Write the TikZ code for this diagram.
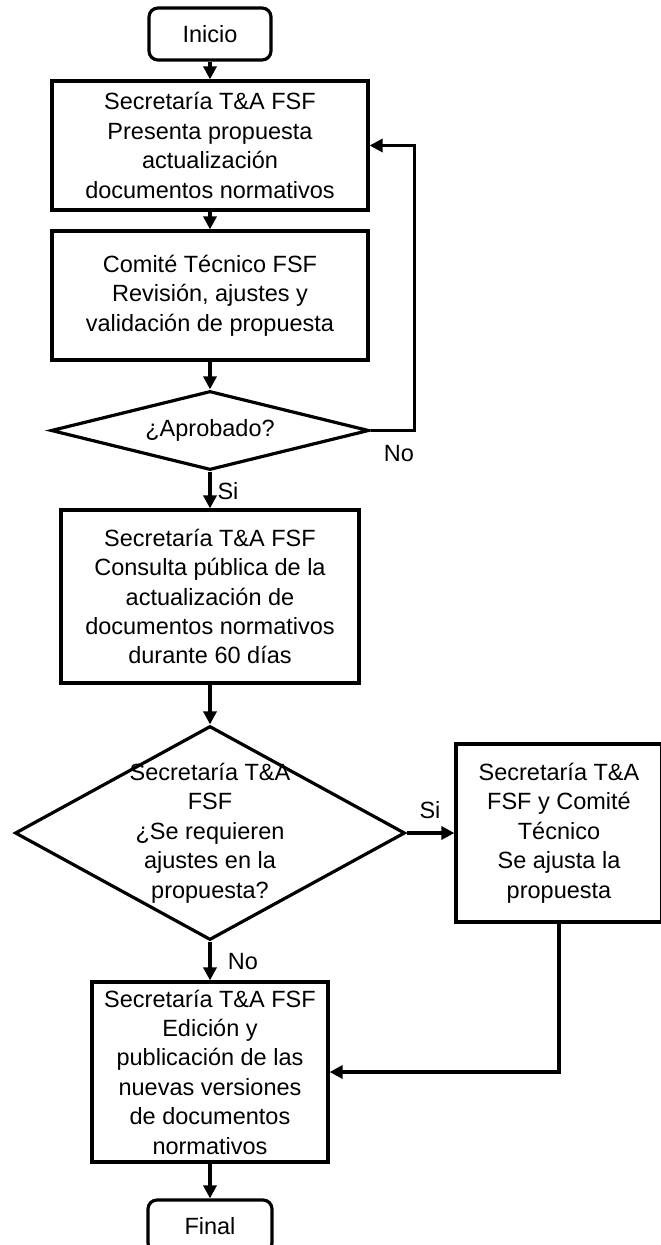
\documentclass[tikz,border=0pt]{standalone}
\usepackage{fontspec}
\setmainfont{Liberation Sans}
\usetikzlibrary{shapes.geometric,arrows.meta}
\definecolor{flowdark}{RGB}{0,0,0}
\newcommand{\flowfont}{\fontsize{23.5}{29.4}\selectfont}
\tikzstyle{arrow}=[line width=3.2pt, -{Triangle[length=13pt,width=13pt]}, color=flowdark]
\tikzstyle{process}=[draw=flowdark, line width=3.2pt, rectangle, inner sep=0pt, align=center, font=\flowfont]
\tikzstyle{terminal}=[process, rounded corners=9pt]
\tikzstyle{decision}=[draw=flowdark, line width=3.2pt, diamond, inner sep=0pt]
\tikzstyle{flowtext}=[align=center, font=\flowfont, inner sep=0pt]

\begin{document}
\begin{tikzpicture}[x=1pt, y=-1pt]
    \useasboundingbox (0,0) rectangle (661,1245);

    % Start and end
    \node[terminal, minimum width=122pt, minimum height=52pt] (start) at (210, 34) {Inicio};
    \node[terminal, minimum width=124pt, minimum height=52pt] (stop) at (210, 1226) {Final};

    % Process boxes
    \node[process, minimum width=316pt, minimum height=129pt] (present) at (210, 145.5)
        {Secretaría T\&A FSF\\Presenta propuesta\\actualización\\documentos normativos};
    \node[process, minimum width=316pt, minimum height=129pt] (review) at (210, 295.5)
        {Comité Técnico FSF\\Revisión, ajustes y\\validación de propuesta};
    \node[process, minimum width=298pt, minimum height=173pt] (consult) at (210, 596.5)
        {Secretaría T\&A FSF\\Consulta pública de la\\actualización de\\documentos normativos\\durante 60 días};
    \node[process, minimum width=206pt, minimum height=178pt] (adjust) at (559, 833)
        {Secretaría T\&A\\FSF y Comité\\Técnico\\Se ajusta la\\propuesta};
    \node[process, minimum width=236pt, minimum height=180pt] (publish) at (210, 1072)
        {Secretaría T\&A FSF\\Edición y\\publicación de las\\nuevas versiones\\de documentos\\normativos};

    % Decisions
    \node[decision, minimum width=318pt, minimum height=79pt] (approved) at (210, 430.5) {};
    \node[flowtext] (approvedtxt) at (approved.center) {¿Aprobado?};
    \node[decision, minimum width=390pt, minimum height=214pt] (needadj) at (210, 833) {};
    \node[flowtext] (needadjtxt) at (needadj.center)
        {Secretaría T\&A\\FSF\\¿Se requieren\\ajustes en la\\propuesta?};

    % Main flow
    \draw[arrow] (start) -- (present);
    \draw[arrow] (present) -- (review);
    \draw[arrow] (review) -- (approved);
    \draw[arrow] (approved) -- (consult);
    \draw[arrow] (consult) -- (needadj);
    \draw[arrow] (needadj) -- (publish);
    \draw[arrow] (publish) -- (stop);

    % Branches
    \draw[arrow] (approved.east) -- ++(44,0) |- (present.east);
    \draw[arrow] (needadj.east) -- (adjust.west);
    \draw[arrow] (adjust.south) |- (publish.east);

    % Labels
    \node[flowtext] (nolbl1) at (399, 454) {No};
    \node[flowtext] (silbl1) at (228, 491) {Si};
    \node[flowtext] (silbl2) at (430, 810) {Si};
    \node[flowtext] (nolbl2) at (243, 962) {No};

\end{tikzpicture}
\end{document}
